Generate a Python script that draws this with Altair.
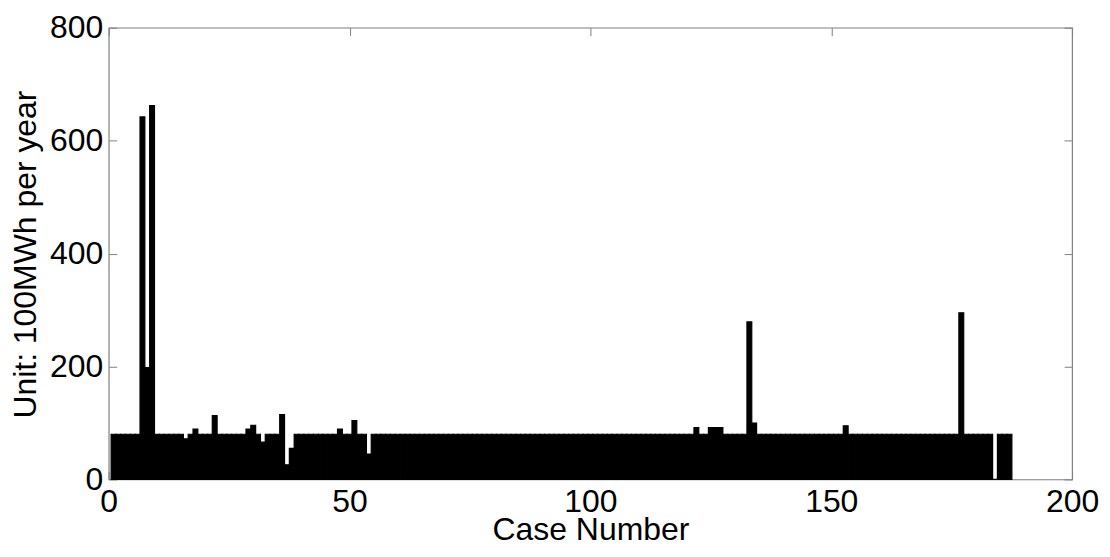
import altair as alt
import pandas as pd

# Case numbers 1..187 and annual energy values (unit: 100 MWh per year)
cases = list(range(1, 188))
values = [
    80, 80, 80, 80, 80, 80, 642, 198, 662, 80,   # 1-10
    80, 80, 80, 80, 80, 72, 80, 89, 80, 80,      # 11-20
    80, 113, 80, 80, 80, 80, 80, 80, 89, 96,     # 21-30
    80, 66, 80, 80, 80, 115, 26, 55, 80, 80,     # 31-40
    80, 80, 80, 80, 80, 80, 80, 89, 80, 80,      # 41-50
    104, 80, 80, 45, 80, 80, 80, 80, 80, 80,     # 51-60
    80, 80, 80, 80, 80, 80, 80, 80, 80, 80,      # 61-70
    80, 80, 80, 80, 80, 80, 80, 80, 80, 80,      # 71-80
    80, 80, 80, 80, 80, 80, 80, 80, 80, 80,      # 81-90
    80, 80, 80, 80, 80, 80, 80, 80, 80, 80,      # 91-100
    80, 80, 80, 80, 80, 80, 80, 80, 80, 80,      # 101-110
    80, 80, 80, 80, 80, 80, 80, 80, 80, 80,      # 111-120
    80, 92, 80, 80, 92, 92, 92, 80, 80, 80,      # 121-130
    80, 80, 279, 100, 80, 80, 80, 80, 80, 80,    # 131-140
    80, 80, 80, 80, 80, 80, 80, 80, 80, 80,      # 141-150
    80, 80, 95, 80, 80, 80, 80, 80, 80, 80,      # 151-160
    80, 80, 80, 80, 80, 80, 80, 80, 80, 80,      # 161-170
    80, 80, 80, 80, 80, 80, 295, 80, 80, 80,     # 171-180
    80, 80, 80, 0, 80, 80, 80,                   # 181-187
]
x_ticks = [0, 50, 100, 150, 200]
y_ticks = [0, 200, 400, 600, 800]

df = pd.DataFrame({"case": cases, "value": values})

FONT = "Liberation Sans"
GRAY = "#808080"
FS = 32

xs = alt.Scale(domain=[0, 200], nice=False, zero=False)
ys = alt.Scale(domain=[0, 800], nice=False)

base = alt.Chart(df).transform_calculate(
    x0="datum.case - 0.5", x1="datum.case + 0.5"
)

bars = base.mark_bar(color="black", stroke="black", strokeWidth=1.2).encode(
    x=alt.X(
        "x0:Q",
        scale=xs,
        axis=alt.Axis(
            values=x_ticks, orient="bottom", offset=-8, tickSize=8,
            tickColor=GRAY, domain=False, labelPadding=7, labelFlush=False,
            labelFontSize=FS, labelFont=FONT, labelColor="black",
            title="Case Number", titleFontSize=FS, titleFont=FONT,
            titleFontWeight="normal", titleColor="black",
            titleBaseline="alphabetic", titleY=68, titleAnchor="middle",
        ),
    ),
    x2="x1:Q",
    y=alt.Y(
        "value:Q",
        scale=ys,
        axis=alt.Axis(
            values=y_ticks, orient="left", offset=-8, tickSize=8,
            tickColor=GRAY, domain=False, labelPadding=6, labelFlush=False,
            labelFontSize=FS, labelFont=FONT, labelColor="black",
            title="Unit: 100MWh per year", titleFontSize=FS, titleFont=FONT,
            titleFontWeight="normal", titleColor="black",
            titleBaseline="alphabetic", titleAngle=270,
            titleX=-81, titleY=227, titleAlign="center",
        ),
    ),
    y2=alt.datum(0),
)

mirror = base.mark_bar(opacity=0).encode(
    x=alt.X(
        "x0:Q",
        scale=xs,
        axis=alt.Axis(
            values=x_ticks, orient="top", offset=-8, tickSize=8,
            tickColor=GRAY, domain=False, labels=False, title="",
        ),
    ),
    x2="x1:Q",
    y=alt.Y(
        "value:Q",
        scale=ys,
        axis=alt.Axis(
            values=y_ticks, orient="right", offset=-8, tickSize=8,
            tickColor=GRAY, domain=False, labels=False, title="",
        ),
    ),
    y2=alt.datum(0),
)

chart = (
    alt.layer(bars, mirror)
    .resolve_axis(x="independent", y="independent")
    .properties(
        width=966,
        height=453,
        autosize=alt.AutoSizeParams(type="none"),
        padding={"left": 101, "top": 19, "right": 30, "bottom": 70},
    )
    .configure_view(stroke=GRAY, strokeWidth=1.2)
    .configure_axis(grid=False)
)

chart.save("out.html", embed_options={"renderer": "svg", "actions": False})
